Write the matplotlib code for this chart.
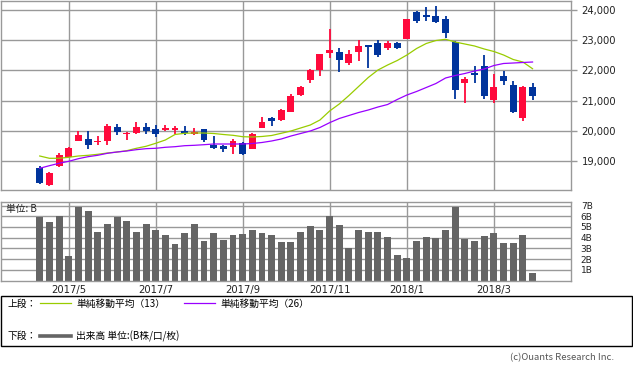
import matplotlib
matplotlib.use("Agg")
import matplotlib.pyplot as plt
from matplotlib.lines import Line2D
from matplotlib.patches import Rectangle
from matplotlib.ticker import FuncFormatter
import numpy as np
import pandas as pd

# ---------------- data ----------------
week_start = pd.date_range("2017-04-10", periods=52, freq="W-MON")

opens = [18769, 18206, 18845, 19133, 19673, 19729, 19620, 19673, 20126, 19884,
         19937, 20126, 20060, 20037, 20037, 19970, 19904, 20060, 19540, 19507,
         19474, 19606, 19408, 20103, 20424, 20368, 20633, 21196, 21692, 22023,
         22586, 22609, 22255, 22619, 22841, 22907, 22752, 22907, 23050, 23934,
         23834, 23801, 23702, 22940, 21583, 21914, 22146, 21020, 21815, 21517,
         20424, 21450]
highs = [18835, 18636, 19265, 19464, 19994, 19994, 19838, 20225, 20225, 19970,
         20292, 20258, 20192, 20192, 20159, 20159, 20103, 20070, 19828, 19520,
         19739, 19639, 19937, 20457, 20457, 20722, 21219, 21484, 22030, 22550,
         23381, 22742, 22676, 23007, 22850, 23007, 22974, 22940, 23710, 23967,
         24099, 24132, 23801, 22974, 21782, 22146, 22510, 21881, 21980, 21649,
         21484, 21583]
lows = [18239, 18183, 18812, 19123, 19660, 19408, 19540, 19540, 19871, 19705,
        19904, 19904, 19805, 20004, 19904, 19871, 19871, 19639, 19408, 19308,
        19242, 19209, 19400, 20095, 20169, 20335, 20625, 21153, 21593, 21825,
        22421, 21957, 22189, 22321, 22090, 22454, 22686, 22719, 23040, 23580,
        23646, 23580, 23083, 21053, 20921, 21583, 21053, 20921, 21517, 20590,
        20325, 21020]
closes = [18272, 18603, 19199, 19441, 19861, 19540, 19673, 20159, 19970, 19937,
          20126, 20004, 19904, 20103, 20103, 19937, 19970, 19705, 19441, 19408,
          19673, 19242, 19904, 20292, 20335, 20689, 21153, 21450, 22023, 22543,
          22676, 22354, 22543, 22808, 22785, 22520, 22907, 22752, 23702, 23646,
          23778, 23613, 23248, 21351, 21715, 21848, 21153, 21450, 21649, 20623,
          21450, 21153]
sma13 = [19166, 19090, 19090, 19123, 19166, 19189, 19222, 19265, 19298, 19341,
         19421, 19487, 19586, 19696, 19878, 19918, 19927, 19927, 19911, 19878,
         19851, 19805, 19795, 19812, 19845, 19918, 19994, 20093, 20192, 20358,
         20656, 20888, 21169, 21467, 21765, 22013, 22179, 22328, 22510, 22725,
         22891, 22990, 23030, 22940, 22874, 22808, 22709, 22626, 22510, 22361,
         22278, 22056]
sma26 = [18759, 18845, 18924, 18990, 19077, 19143, 19189, 19255, 19298, 19331,
         19375, 19408, 19421, 19454, 19474, 19507, 19520, 19540, 19563, 19563,
         19563, 19563, 19580, 19613, 19663, 19729, 19828, 19911, 19994, 20110,
         20269, 20408, 20507, 20606, 20689, 20788, 20871, 21037, 21186, 21302,
         21434, 21566, 21749, 21831, 21898, 21980, 22047, 22162, 22229, 22245,
         22262, 22278]
volume_b = [5.9, 5.5, 6.0, 2.3, 6.9, 6.5, 4.55, 5.3, 5.9, 5.6,
            4.55, 5.3, 4.7, 4.27, 3.43, 4.46, 5.3, 3.7, 4.46, 3.8,
            4.27, 4.36, 4.7, 4.46, 4.27, 3.6, 3.6, 4.55, 5.1, 4.7,
            6.07, 5.23, 3.05, 4.7, 4.5, 4.5, 4.08, 2.4, 2.12, 3.7,
            4.08, 4.0, 4.7, 6.9, 3.9, 3.7, 4.17, 4.46, 3.5, 3.5,
            4.27, 0.72]
price_ticks = [19000, 20000, 21000, 22000, 23000, 24000]
vol_ticks = [1, 2, 3, 4, 5, 6, 7]
month_labels = ["2017/5", "2017/7", "2017/9", "2017/11", "2018/1", "2018/3"]

# ---------------- style ----------------
W, H = 633, 370
JP = ["Noto Sans CJK JP", "DejaVu Sans"]
UP = "#ff0a3c"
DOWN = "#00349c"
GRID = "#999999"
G13 = "#99cc00"
P26 = "#9900ff"
VOLC = "#656565"

def fx(px):
    return px / W

def fy(py):
    return 1 - py / H

x = np.arange(len(closes))
o = np.array(opens); c = np.array(closes)
hi = np.array(highs); lo = np.array(lows)

# month tick positions: first week of odd months
mpos = [i for i in range(1, len(week_start))
        if week_start[i].month != week_start[i - 1].month and week_start[i].month % 2 == 1]

fig = plt.figure(figsize=(W / 100, H / 100), dpi=100)
fig.patch.set_facecolor("white")

ax = fig.add_axes([fx(0.5), fy(190), fx(571) - fx(0.5), fy(0.7) - fy(190)])
axv = fig.add_axes([fx(0.5), fy(280.5), fx(571) - fx(0.5), fy(201.7) - fy(280.5)])

xlim = (-4.06, 54.98)

# ---------- price panel ----------
ax.set_xlim(*xlim)
ax.set_ylim(18040, 24308)
ax.set_axisbelow(True)
for yv in price_ticks:
    ax.axhline(yv, color=GRID, lw=1.0, zorder=0)
for xv in mpos:
    ax.axvline(xv, color=GRID, lw=1.0, zorder=0)

up = c >= o
colors = np.where(up, UP, DOWN)
body_bottom = np.minimum(o, c)
body_h = np.maximum(np.abs(c - o), 45)
ax.vlines(x, lo, hi, colors=colors, lw=1.3, zorder=2)
ax.bar(x, body_h, bottom=body_bottom, width=0.72, color=colors, zorder=3, linewidth=0)
ax.plot(x, sma13, color=G13, lw=0.9, zorder=4)
ax.plot(x, sma26, color=P26, lw=0.9, zorder=4)

ax.yaxis.tick_right()
ax.set_yticks(price_ticks)
ax.yaxis.set_major_formatter(FuncFormatter(lambda v, p: f"{int(v):,}"))
ax.tick_params(axis="y", length=4.5, width=1, color=GRID, pad=3.2,
               labelsize=7.2, labelcolor="#222222")
ax.set_xticks([])
for s in ax.spines.values():
    s.set_color(GRID)
    s.set_linewidth(1.0)

# ---------- volume panel ----------
axv.set_xlim(*xlim)
axv.set_ylim(0, 7.36)
axv.set_axisbelow(True)
for yv in vol_ticks:
    axv.axhline(yv, color=GRID, lw=1.0, zorder=0)
for xv in mpos:
    axv.axvline(xv, color=GRID, lw=1.0, zorder=0)
axv.bar(x, volume_b, width=0.72, color=VOLC, zorder=2, linewidth=0)
axv.yaxis.tick_right()
axv.set_yticks(vol_ticks)
axv.set_yticklabels([f"{v}B" for v in vol_ticks])
axv.tick_params(axis="y", length=0, pad=7, labelsize=6.5, labelcolor="#222222")
axv.set_xticks(mpos)
axv.set_xticklabels(month_labels)
axv.tick_params(axis="x", length=0, pad=3, labelsize=7.2, labelcolor="#222222")
for s in axv.spines.values():
    s.set_color(GRID)
    s.set_linewidth(1.0)
axv.text(fx(6), fy(209), "単位: B", transform=fig.transFigure, family=JP,
         fontsize=7, va="center", ha="left", color="#222222")

# ---------- legend box ----------
fig.add_artist(Rectangle((fx(0.5), fy(345.7)), fx(632) - fx(0.5), fy(296) - fy(345.7),
                         transform=fig.transFigure, fill=False, edgecolor="black", lw=1.0))
fig.text(fx(8), fy(303.5), "上段：", family=JP, fontsize=7, va="center", ha="left")
fig.add_artist(Line2D([fx(40), fx(71)], [fy(303), fy(303)], transform=fig.transFigure,
                      color=G13, lw=0.9))
fig.text(fx(76), fy(303.5), "単純移動平均（13）", family=JP, fontsize=7, va="center", ha="left")
fig.add_artist(Line2D([fx(184), fx(215)], [fy(303), fy(303)], transform=fig.transFigure,
                      color=P26, lw=0.9))
fig.text(fx(220), fy(303.5), "単純移動平均（26）", family=JP, fontsize=7, va="center", ha="left")
fig.text(fx(8), fy(336), "下段：", family=JP, fontsize=7, va="center", ha="left")
fig.add_artist(Line2D([fx(40), fx(71)], [fy(336), fy(336)], transform=fig.transFigure,
                      color=VOLC, lw=2.6))
fig.text(fx(76), fy(336), "出来高 単位:(B株/口/枚)", family=JP, fontsize=7, va="center", ha="left")

fig.text(fx(614), fy(357.5), "(c)Ouants Research Inc.", family=JP, fontsize=6.8,
         va="center", ha="right", color="#555555")

fig.savefig("out.png", dpi=100, facecolor="white")
